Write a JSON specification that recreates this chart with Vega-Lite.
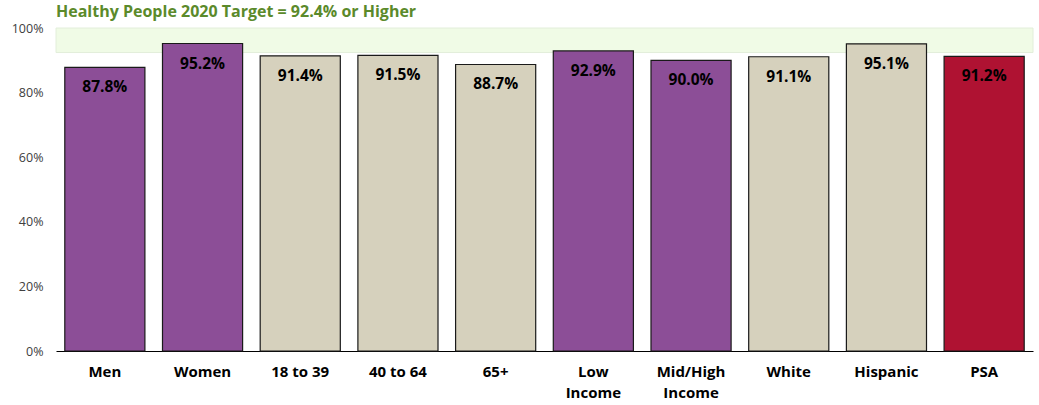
{
  "$schema": "https://vega.github.io/schema/vega-lite/v6.json",
  "width": 977,
  "height": 323,
  "autosize": {"type": "none"},
  "padding": {"left": 56, "top": 28, "right": 6, "bottom": 54},
  "background": "white",
  "config": {"view": {"stroke": null}, "font": "Open Sans"},
  "title": {
    "text": "Healthy People 2020 Target = 92.4% or Higher",
    "anchor": "start",
    "frame": "group",
    "color": "#5B8A2B",
    "font": "Open Sans",
    "fontSize": 16,
    "fontWeight": "bold",
    "offset": 2
  },
  "datasets": {
    "bars": [
      {"group": "Men", "value": 87.8, "kind": "gender"},
      {"group": "Women", "value": 95.2, "kind": "gender"},
      {"group": "18 to 39", "value": 91.4, "kind": "age"},
      {"group": "40 to 64", "value": 91.5, "kind": "age"},
      {"group": "65+", "value": 88.7, "kind": "age"},
      {"group": "Low|Income", "value": 92.9, "kind": "gender"},
      {"group": "Mid/High|Income", "value": 90.0, "kind": "gender"},
      {"group": "White", "value": 91.1, "kind": "age"},
      {"group": "Hispanic", "value": 95.1, "kind": "age"},
      {"group": "PSA", "value": 91.2, "kind": "psa"}
    ],
    "band": [{"lo": 92.4, "hi": 100}]
  },
  "layer": [
    {
      "data": {"name": "band"},
      "mark": {"type": "rect", "fill": "#F0FBE6", "stroke": "#E2EEDA", "strokeWidth": 1},
      "encoding": {
        "y": {"field": "lo", "type": "quantitative", "scale": {"domain": [0, 100]}},
        "y2": {"field": "hi"}
      }
    },
    {
      "data": {"name": "bars"},
      "mark": {"type": "bar", "stroke": "#1a1a1a", "strokeWidth": 1.2},
      "encoding": {
        "x": {
          "field": "group",
          "type": "nominal",
          "sort": null,
          "scale": {"paddingInner": 0.18, "paddingOuter": 0.09},
          "axis": {
            "title": null,
            "labelAngle": 0,
            "labelExpr": "split(datum.label, '|')",
            "labelFont": "Open Sans",
            "labelFontSize": 15,
            "labelFontWeight": "bold",
            "labelColor": "#000000",
            "labelPadding": 13,
            "labelLineHeight": 21,
            "ticks": false,
            "domainColor": "#000000",
            "domainWidth": 1.2
          }
        },
        "y": {
          "field": "value",
          "type": "quantitative",
          "scale": {"domain": [0, 100]},
          "axis": {
            "title": null,
            "values": [0, 20, 40, 60, 80, 100],
            "labelExpr": "datum.value + '%'",
            "labelFont": "Open Sans",
            "labelFontSize": 12.5,
            "labelColor": "#404040",
            "labelPadding": 13,
            "ticks": false,
            "domain": false,
            "grid": false
          }
        },
        "color": {
          "field": "kind",
          "type": "nominal",
          "scale": {"domain": ["gender", "age", "psa"], "range": ["#8C4E97", "#D6D1BD", "#AF1232"]},
          "legend": null
        }
      }
    },
    {
      "data": {"name": "bars"},
      "transform": [{"calculate": "format(datum.value, '.1f') + '%'", "as": "label"}],
      "mark": {"type": "text", "dy": 20, "font": "Open Sans", "fontSize": 15.5, "fontWeight": "bold", "color": "#000000", "baseline": "middle"},
      "encoding": {
        "x": {"field": "group", "type": "nominal", "sort": null},
        "y": {"field": "value", "type": "quantitative"},
        "text": {"field": "label", "type": "nominal"},
        "color": {"value": "#000000"}
      }
    }
  ]
}
